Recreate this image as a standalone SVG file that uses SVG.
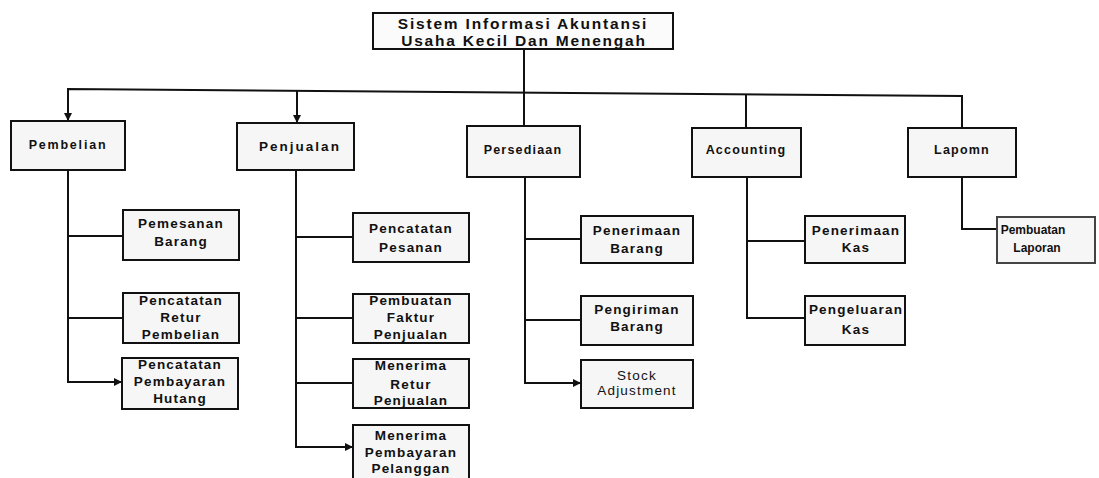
<svg xmlns="http://www.w3.org/2000/svg" width="1099" height="478" viewBox="0 0 1099 478">
  <style>
    .box { fill: #f6f6f6; stroke: #111; stroke-width: 2; }
    .root { fill: #fbfbfb; stroke: #111; stroke-width: 2; }
    .wire { fill: none; stroke: #111; stroke-width: 2; }
    text { font-family: "Liberation Sans", Arial, sans-serif; font-weight: bold; fill: #111; text-anchor: middle; }
    .t0 { font-size: 15.5px; letter-spacing: 1.8px; }
    .t1 { font-size: 12.5px; letter-spacing: 1.2px; }
    .t2 { font-size: 13.5px; letter-spacing: 1.2px; }
    .reg { font-weight: normal; }
  </style>
  <defs>
    <marker id="arrow" viewBox="0 0 10 10" refX="10" refY="5" markerWidth="9" markerHeight="8" markerUnits="userSpaceOnUse" orient="auto">
      <path d="M0,0 L10,5 L0,10 z" fill="#111"/>
    </marker>
  </defs>

  <rect width="1099" height="478" fill="#ffffff"/>

  <!-- connectors -->
  <g id="connectors">
    <!-- root to bus -->
    <line class="wire" x1="524" y1="49" x2="524" y2="92.6"/>
    <!-- main bus -->
    <polyline class="wire" points="68,121 68,89 962,96 962,128"/>
    <line class="wire" x1="68" y1="100" x2="68" y2="121" marker-end="url(#arrow)"/>
    <line class="wire" x1="297" y1="90.8" x2="297" y2="123" marker-end="url(#arrow)"/>
    <line class="wire" x1="524" y1="92.6" x2="524" y2="126"/>
    <line class="wire" x1="746" y1="94.3" x2="746" y2="128"/>

    <!-- Pembelian branch -->
    <polyline class="wire" points="68,170 68,382 122,382" marker-end="url(#arrow)"/>
    <line class="wire" x1="68" y1="236" x2="123" y2="236"/>
    <line class="wire" x1="68" y1="318" x2="123" y2="318"/>

    <!-- Penjualan branch -->
    <polyline class="wire" points="296,170 296,447 353,447" marker-end="url(#arrow)"/>
    <line class="wire" x1="296" y1="237" x2="353" y2="237"/>
    <line class="wire" x1="296" y1="318" x2="353" y2="318"/>
    <line class="wire" x1="296" y1="383" x2="353" y2="383"/>

    <!-- Persediaan branch -->
    <polyline class="wire" points="525,177 525,383 581,383" marker-end="url(#arrow)"/>
    <line class="wire" x1="525" y1="239" x2="581" y2="239"/>
    <line class="wire" x1="525" y1="320" x2="581" y2="320"/>

    <!-- Accounting branch -->
    <polyline class="wire" points="747,177 747,318 805,318"/>
    <line class="wire" x1="747" y1="241" x2="805" y2="241"/>

    <!-- Laporan branch -->
    <polyline class="wire" points="962,177 962,229 997,229"/>
  </g>

  <!-- root -->
  <g id="root">
    <rect class="root" x="373" y="13" width="300" height="36"/>
    <text class="t0" x="523" y="29">Sistem Informasi Akuntansi</text>
    <text class="t0" x="524" y="46">Usaha Kecil Dan Menengah</text>
  </g>

  <!-- first level -->
  <g id="pembelian">
    <rect class="box" x="11" y="121" width="114" height="49"/>
    <text class="t1" x="68" y="149" style="letter-spacing:1.8px">Pembelian</text>
  </g>
  <g id="penjualan">
    <rect class="box" x="237" y="123" width="117" height="47"/>
    <text class="t1" x="300" y="151" style="font-size:13.5px;letter-spacing:2px">Penjualan</text>
  </g>
  <g id="persediaan">
    <rect class="box" x="467" y="126" width="113" height="51"/>
    <text class="t1" x="523" y="154">Persediaan</text>
  </g>
  <g id="accounting">
    <rect class="box" x="692" y="128" width="109" height="49"/>
    <text class="t1" x="746" y="154">Accounting</text>
  </g>
  <g id="laporan">
    <rect class="box" x="908" y="128" width="108" height="49"/>
    <text class="t1" x="962" y="154">Lapomn</text>
  </g>

  <!-- Pembelian children -->
  <g id="pemesanan-barang">
    <rect class="box" x="123" y="210" width="116" height="50"/>
    <text class="t2" x="181" y="228">Pemesanan</text>
    <text class="t2" x="181" y="246">Barang</text>
  </g>
  <g id="retur-pembelian">
    <rect class="box" x="123" y="293" width="116" height="50"/>
    <text class="t2" x="181" y="305">Pencatatan</text>
    <text class="t2" x="181" y="322">Retur</text>
    <text class="t2" x="181" y="339">Pembelian</text>
  </g>
  <g id="pembayaran-hutang">
    <rect class="box" x="122" y="358" width="116" height="51"/>
    <text class="t2" x="180" y="369">Pencatatan</text>
    <text class="t2" x="180" y="386">Pembayaran</text>
    <text class="t2" x="180" y="403">Hutang</text>
  </g>

  <!-- Penjualan children -->
  <g id="pencatatan-pesanan">
    <rect class="box" x="353" y="213" width="116" height="49"/>
    <text class="t2" x="411" y="233">Pencatatan</text>
    <text class="t2" x="411" y="252">Pesanan</text>
  </g>
  <g id="faktur-penjualan">
    <rect class="box" x="353" y="294" width="116" height="49"/>
    <text class="t2" x="411" y="305">Pembuatan</text>
    <text class="t2" x="411" y="322">Faktur</text>
    <text class="t2" x="411" y="339">Penjualan</text>
  </g>
  <g id="retur-penjualan">
    <rect class="box" x="353" y="359" width="116" height="49"/>
    <text class="t2" x="411" y="370">Menerima</text>
    <text class="t2" x="411" y="389">Retur</text>
    <text class="t2" x="411" y="405">Penjualan</text>
  </g>
  <g id="pembayaran-pelanggan">
    <rect class="box" x="353" y="425" width="116" height="56"/>
    <text class="t2" x="411" y="440">Menerima</text>
    <text class="t2" x="411" y="457">Pembayaran</text>
    <text class="t2" x="411" y="473">Pelanggan</text>
  </g>

  <!-- Persediaan children -->
  <g id="penerimaan-barang">
    <rect class="box" x="581" y="216" width="112" height="47"/>
    <text class="t2" x="637" y="235">Penerimaan</text>
    <text class="t2" x="637" y="253">Barang</text>
  </g>
  <g id="pengiriman-barang">
    <rect class="box" x="581" y="296" width="112" height="49"/>
    <text class="t2" x="637" y="314">Pengiriman</text>
    <text class="t2" x="637" y="331">Barang</text>
  </g>
  <g id="stock-adjustment">
    <rect class="box" x="581" y="360" width="112" height="48"/>
    <text class="t2 reg" x="637" y="380">Stock</text>
    <text class="t2 reg" x="637" y="395">Adjustment</text>
  </g>

  <!-- Accounting children -->
  <g id="penerimaan-kas">
    <rect class="box" x="805" y="216" width="100" height="47"/>
    <text class="t2" x="856" y="235">Penerimaan</text>
    <text class="t2" x="856" y="252">Kas</text>
  </g>
  <g id="pengeluaran-kas">
    <rect class="box" x="805" y="296" width="100" height="49"/>
    <text class="t2" x="856" y="314">Pengeluaran</text>
    <text class="t2" x="856" y="334">Kas</text>
  </g>

  <!-- Laporan child -->
  <g id="pembuatan-laporan">
    <rect class="box" x="997" y="217" width="98" height="46" style="stroke:#444"/>
    <text x="1033" y="234" style="font-size:12px">Pembuatan</text>
    <text x="1037" y="252" style="font-size:12px">Laporan</text>
  </g>
</svg>
